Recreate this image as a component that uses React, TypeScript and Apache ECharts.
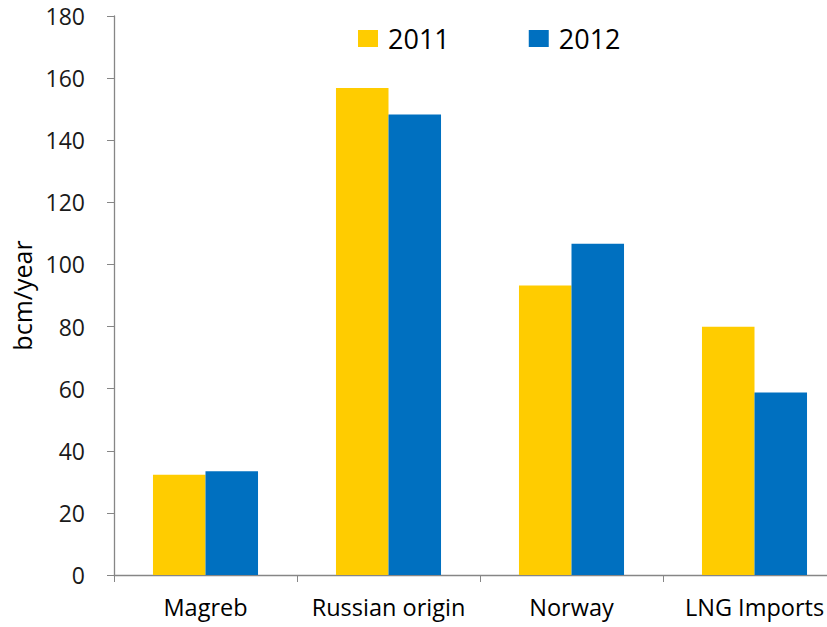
import React, { useEffect, useRef } from "react";
import * as echarts from "echarts";

const categories = ["Magreb", "Russian origin", "Norway", "LNG Imports"];
const values2011 = [32.3, 156.8, 93.2, 79.9];
const values2012 = [33.4, 148.3, 106.7, 58.8];
const yTicks = { min: 0, max: 180, interval: 20 };

const FONT = "'Open Sans', 'Liberation Sans', sans-serif";

export default function App() {
  const ref = useRef<HTMLDivElement>(null);
  useEffect(() => {
    if (!ref.current) return;
    const chart = echarts.init(ref.current, undefined, { renderer: "svg" });
    chart.setOption({
      animation: false,
      backgroundColor: "#ffffff",
      legend: {
        top: 20,
        left: 353,
        itemWidth: 20,
        itemHeight: 17,
        itemGap: 79,
        icon: "rect",
        textStyle: { fontSize: 27, color: "#000000", fontFamily: FONT, padding: [0, 0, 0, 5] },
        data: ["2011", "2012"],
      },
      grid: { left: 114, top: 16, bottom: 52, right: 0, containLabel: false },
      xAxis: {
        type: "category",
        data: categories,
        axisLine: { lineStyle: { color: "#868686", width: 1.3 } },
        axisTick: { show: true, interval: 0, length: 7, lineStyle: { color: "#868686" }, alignWithLabel: false },
        axisLabel: { interval: 0, hideOverlap: false, fontSize: 23.5, color: "#000000", fontFamily: FONT, margin: 20 },
      },
      yAxis: {
        type: "value",
        min: yTicks.min,
        max: yTicks.max,
        interval: yTicks.interval,
        name: "bcm/year",
        nameLocation: "middle",
        nameGap: 78,
        nameRotate: 90,
        nameTextStyle: { fontSize: 25, color: "#000000", fontFamily: FONT },
        axisLine: { show: true, lineStyle: { color: "#868686", width: 1.3 } },
        axisTick: { show: true, length: 7, lineStyle: { color: "#868686" } },
        splitLine: { show: false },
        axisLabel: { fontSize: 23, color: "#1a1a1a", fontFamily: FONT, margin: 29 },
      },
      series: [
        {
          name: "2011",
          type: "bar",
          data: values2011,
          barGap: "0%",
          barCategoryGap: "42.6%",
          itemStyle: { color: "#FFCC00" },
        },
        {
          name: "2012",
          type: "bar",
          data: values2012,
          barGap: "0%",
          barCategoryGap: "42.6%",
          itemStyle: { color: "#0070C0" },
        },
      ],
    });
    return () => chart.dispose();
  }, []);
  return (
    <div
      style={{ position: "absolute", left: 0, top: 0, width: 827, height: 627, overflow: "hidden", background: "#fff" }}
    >
      <div ref={ref} style={{ width: 846, height: 627 }} />
    </div>
  );
}
